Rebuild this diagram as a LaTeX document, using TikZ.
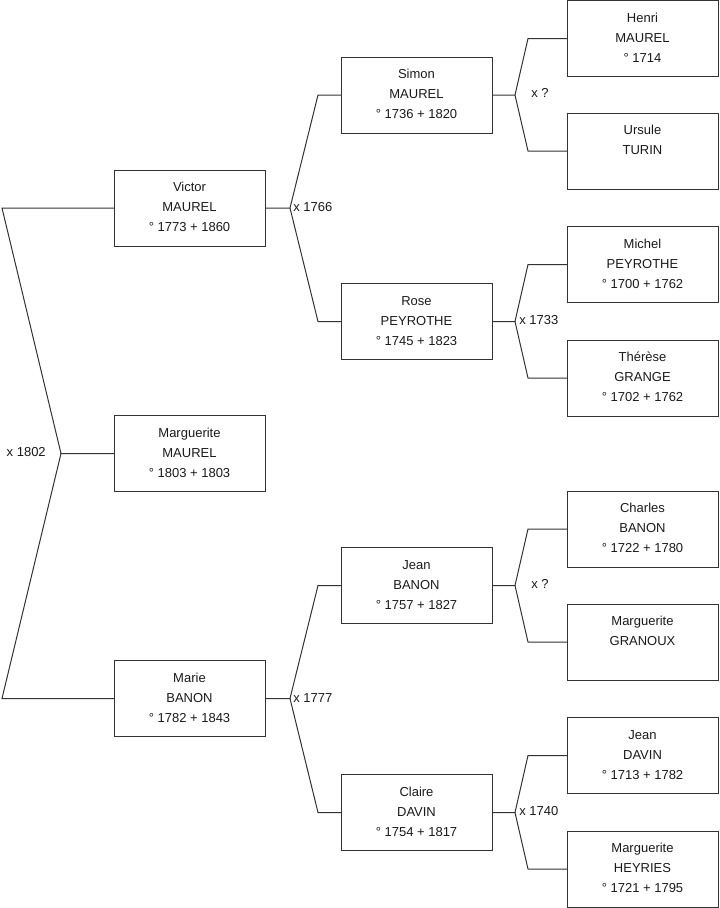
\documentclass[tikz,border=0pt]{standalone}
\usepackage{fontspec}
\setmainfont{Liberation Sans}
\usetikzlibrary{calc}
\definecolor{linec}{HTML}{333333}
\definecolor{textc}{HTML}{1A1A1A}
\newcommand\ptext[1]{\parbox[c][57pt][t]{113pt}{\centering\fontsize{9.75}{15}\selectfont\rule{0pt}{16.2pt}#1}}
\tikzset{
  person/.style={draw=linec, line width=0.75pt, minimum width=113.25pt, minimum height=57pt,
    inner sep=0pt, outer sep=0pt, text=textc},
  link/.style={draw=linec, line width=0.75pt, line join=miter},
  marr/.style={anchor=west, font=\fontsize{9.75}{12}\selectfont, inner sep=0pt, text=textc},
}
\begin{document}
\begin{tikzpicture}[x=0.75pt, y=-0.75pt]
\useasboundingbox (0,0) rectangle (719,908);
% generation 1
\node[person] (victor) at (189.5,208) {\ptext{Victor\\MAUREL\\° 1773 + 1860}};
\node[person] (margm) at (189.5,453.5) {\ptext{Marguerite\\MAUREL\\° 1803 + 1803}};
\node[person] (marie) at (189.5,698.5) {\ptext{Marie\\BANON\\° 1782 + 1843}};
% generation 2
\node[person] (simon) at (416.5,95) {\ptext{Simon\\MAUREL\\° 1736 + 1820}};
\node[person] (rose) at (416.5,321.5) {\ptext{Rose\\PEYROTHE\\° 1745 + 1823}};
\node[person] (jean) at (416.5,585.5) {\ptext{Jean\\BANON\\° 1757 + 1827}};
\node[person] (claire) at (416.5,812.5) {\ptext{Claire\\DAVIN\\° 1754 + 1817}};
% generation 3
\node[person] (henri) at (642.5,38.5) {\ptext{Henri\\MAUREL\\° 1714}};
\node[person] (ursule) at (642.5,151) {\ptext{Ursule\\TURIN}};
\node[person] (michel) at (642.5,264.5) {\ptext{Michel\\PEYROTHE\\° 1700 + 1762}};
\node[person] (therese) at (642.5,378) {\ptext{Thérèse\\GRANGE\\° 1702 + 1762}};
\node[person] (charles) at (642.5,529) {\ptext{Charles\\BANON\\° 1722 + 1780}};
\node[person] (margg) at (642.5,642) {\ptext{Marguerite\\GRANOUX}};
\node[person] (jeand) at (642.5,755.5) {\ptext{Jean\\DAVIN\\° 1713 + 1782}};
\node[person] (margh) at (642.5,869) {\ptext{Marguerite\\HEYRIES\\° 1721 + 1795}};
% left fork
\coordinate (f0top) at (2,208);
\coordinate (f0) at (61,453.5);
\coordinate (f0bot) at (2,698.5);
\draw[link] (victor.west) -- (f0top) -- (f0) -- (margm.west);
\draw[link] (f0) -- (f0bot) -- (marie.west);
\node[marr, anchor=east] (m1802) at (46,452) {x 1802};
% victor fork
\coordinate (fv) at ($(victor.east)+(25,0)$);
\draw[link] (victor.east) -- (fv) -- ($(simon.west)+(-23,0)$) -- (simon.west);
\draw[link] (fv) -- ($(rose.west)+(-23,0)$) -- (rose.west);
\node[marr] (m1766) at (293,207.5) {x 1766};
% marie fork
\coordinate (fm) at ($(marie.east)+(25,0)$);
\draw[link] (marie.east) -- (fm) -- ($(jean.west)+(-23,0)$) -- (jean.west);
\draw[link] (fm) -- ($(claire.west)+(-23,0)$) -- (claire.west);
\node[marr] (m1777) at (293,698) {x 1777};
% simon fork
\coordinate (fs) at ($(simon.east)+(23,0)$);
\draw[link] (simon.east) -- (fs) -- ($(henri.west)+(-39,0)$) -- (henri.west);
\draw[link] (fs) -- ($(ursule.west)+(-39,0)$) -- (ursule.west);
\node[marr] (msimon) at (531,92.5) {x ?};
% rose fork
\coordinate (fr) at ($(rose.east)+(23,0)$);
\draw[link] (rose.east) -- (fr) -- ($(michel.west)+(-39,0)$) -- (michel.west);
\draw[link] (fr) -- ($(therese.west)+(-39,0)$) -- (therese.west);
\node[marr] (m1733) at (519,320.5) {x 1733};
% jean fork
\coordinate (fj) at ($(jean.east)+(23,0)$);
\draw[link] (jean.east) -- (fj) -- ($(charles.west)+(-39,0)$) -- (charles.west);
\draw[link] (fj) -- ($(margg.west)+(-39,0)$) -- (margg.west);
\node[marr] (mjean) at (531,583.5) {x ?};
% claire fork
\coordinate (fc) at ($(claire.east)+(23,0)$);
\draw[link] (claire.east) -- (fc) -- ($(jeand.west)+(-39,0)$) -- (jeand.west);
\draw[link] (fc) -- ($(margh.west)+(-39,0)$) -- (margh.west);
\node[marr] (m1740) at (519,811) {x 1740};
\end{tikzpicture}
\end{document}
